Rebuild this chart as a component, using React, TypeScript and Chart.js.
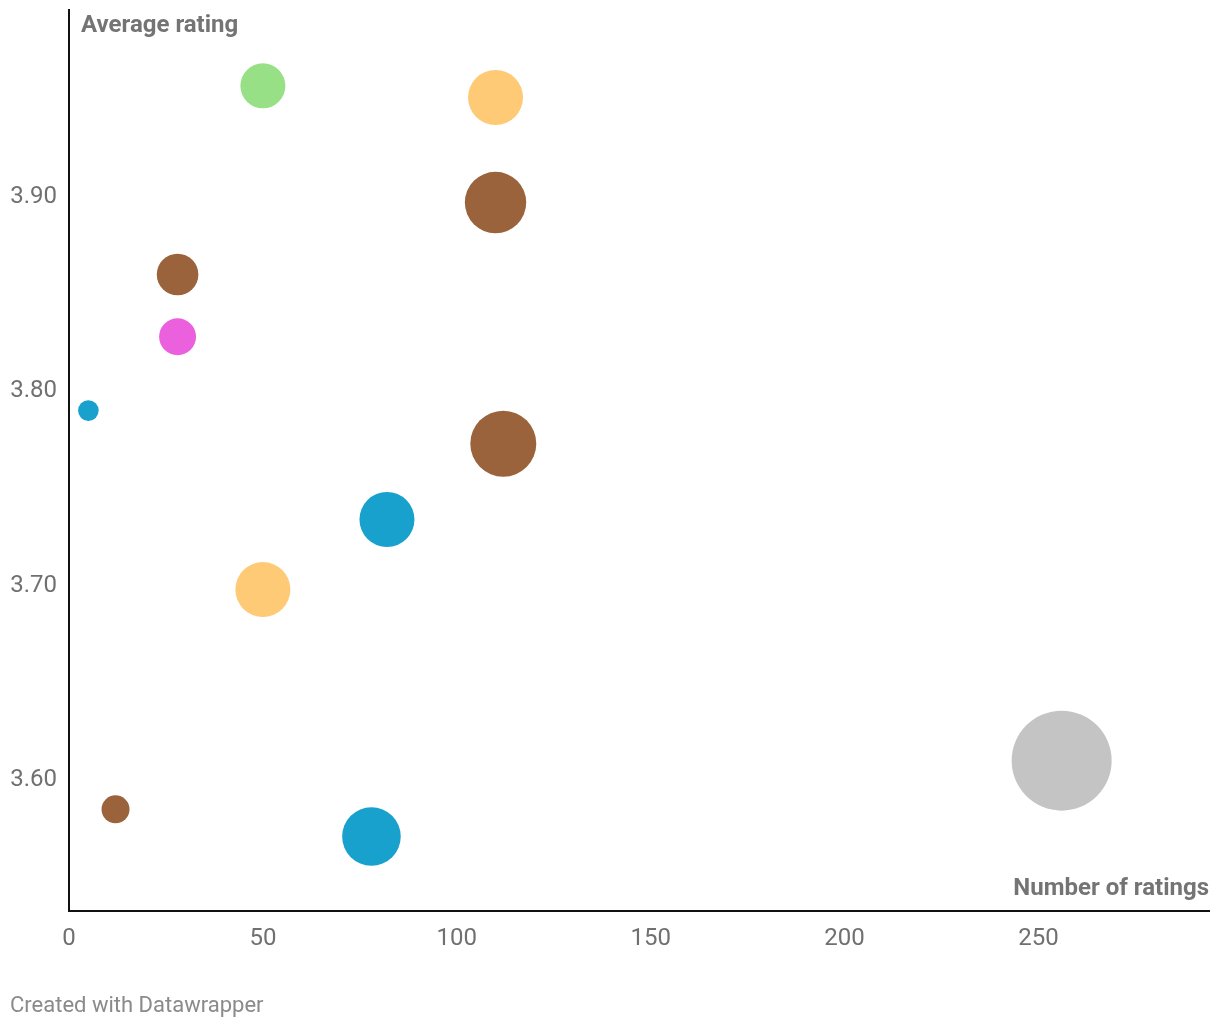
import React, { useEffect, useRef } from "react";
import { Chart, registerables } from "chart.js";

Chart.register(...registerables);

// ---- data ----
const ratingsCount = [50, 110, 110, 28, 28, 5, 112, 82, 50, 256, 12, 78];
const averageRating = [3.957, 3.951, 3.897, 3.86, 3.828, 3.79, 3.773, 3.734, 3.698, 3.61, 3.585, 3.571];
const bubbleSize = [22.5, 27.5, 30.7, 20.8, 18.5, 10.3, 33, 27.5, 27.5, 50, 14, 29.3];
const groups = ["green", "orange", "brown", "brown", "pink", "blue", "brown", "blue", "orange", "grey", "brown", "blue"];
const xTickValues = [0, 50, 100, 150, 200, 250];
const yTickValues = [3.6, 3.7, 3.8, 3.9];

const groupColors: Record<string, string> = {
  green: "#98e086",
  orange: "#ffca76",
  brown: "#9a633c",
  pink: "#eb61dd",
  blue: "#18a1cd",
  grey: "#c4c4c4",
};

const textPlugin = {
  id: "dwText",
  afterDraw(chart: any) {
    const { ctx, chartArea } = chart;
    ctx.save();
    ctx.font = "bold 24px Roboto";
    ctx.fillStyle = "#747474";
    ctx.textBaseline = "alphabetic";
    ctx.textAlign = "left";
    ctx.fillText("Average rating", chartArea.left + 12, 24);
    ctx.textAlign = "right";
    ctx.fillText("Number of ratings", chartArea.right, 887);
    ctx.font = "22px Roboto";
    ctx.fillStyle = "#8a8a8a";
    ctx.textAlign = "left";
    ctx.fillText("Created with Datawrapper", 2, 1004);
    ctx.restore();
  },
};

export default function App() {
  const ref = useRef<HTMLCanvasElement>(null);
  useEffect(() => {
    if (!ref.current) return;
    const points = ratingsCount.map((x, i) => ({ x, y: averageRating[i], r: bubbleSize[i] }));
    const colors = groups.map((g) => groupColors[g]);
    const chart = new Chart(ref.current, {
      type: "bubble",
      data: {
        datasets: [
          {
            data: points,
            backgroundColor: colors,
            borderWidth: 0,
            hoverBorderWidth: 0,
            clip: false,
          },
        ],
      },
      options: {
        animation: false,
        responsive: true,
        maintainAspectRatio: false,
        layout: { autoPadding: false, padding: { top: 2, right: 3, left: 0, bottom: 0 } },
        plugins: { legend: { display: false }, tooltip: { enabled: false } },
        scales: {
          x: {
            type: "linear",
            min: 0,
            max: 294,
            grid: { display: false, drawTicks: false },
            border: { display: true, color: "#111", width: 2 },
            afterBuildTicks: (axis: any) => {
              axis.ticks = xTickValues.map((v) => ({ value: v }));
            },
            afterFit: (axis: any) => {
              axis.height = 109;
              axis.paddingLeft = 0;
              axis.paddingRight = 0;
            },
            ticks: {
              padding: 14,
              color: "#707070",
              font: { family: "Roboto", size: 24 },
              callback: (v: any) => String(v),
            },
          },
          y: {
            type: "linear",
            min: 3.5327,
            max: 3.996,
            grid: { display: false, drawTicks: false },
            border: { display: true, color: "#111", width: 2 },
            afterBuildTicks: (axis: any) => {
              axis.ticks = yTickValues.map((v) => ({ value: v }));
            },
            afterFit: (axis: any) => {
              axis.width = 61;
              axis.paddingTop = 0;
              axis.paddingBottom = 0;
            },
            ticks: {
              padding: 12,
              color: "#707070",
              font: { family: "Roboto", size: 24 },
              callback: (v: any) => Number(v).toFixed(2),
            },
          },
        },
      },
      plugins: [textPlugin],
    });
    return () => chart.destroy();
  }, []);
  return (
    <div style={{ width: 1204, height: 1012, position: "relative" }}>
      <canvas ref={ref} />
    </div>
  );
}
